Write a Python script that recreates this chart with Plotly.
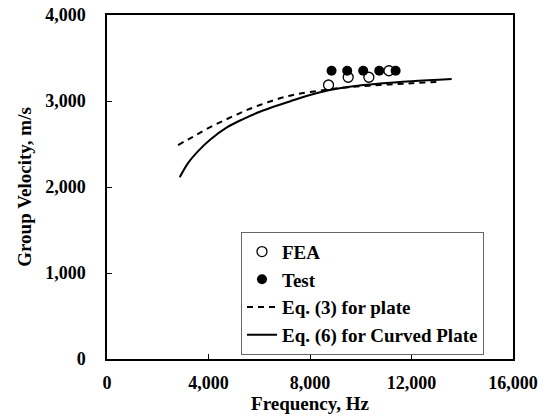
import plotly.graph_objects as go

# Data
fea_freq = [8730, 9505, 10320, 11110]
fea_vel = [3186, 3276, 3276, 3352]

test_freq = [8850, 9466, 10097, 10728, 11374]
test_vel = [3352, 3352, 3352, 3352, 3352]

eq3_freq = [2800, 3392, 4050, 4709, 5364, 6023, 6812, 7500, 8500, 9500, 10750, 12000, 13120]
eq3_vel = [2488, 2585, 2694, 2787, 2876, 2953, 3031, 3080, 3125, 3160, 3186, 3206, 3224]

eq6_freq = [2867, 3200, 3600, 4050, 4709, 5364, 6023, 6681, 7206, 8000, 8730, 9700, 10755, 12000, 13583]
eq6_vel = [2113, 2280, 2420, 2547, 2690, 2790, 2875, 2945, 2995, 3070, 3125, 3172, 3203, 3230, 3256]

x_ticks = [0, 4000, 8000, 12000, 16000]
y_ticks = [0, 1000, 2000, 3000, 4000]

FONT = "Liberation Serif, Times New Roman, serif"

fig = go.Figure()
fig.add_trace(go.Scatter(
    x=fea_freq, y=fea_vel, mode="markers", name="FEA",
    marker=dict(symbol="circle-open", size=10, color="black", line=dict(width=1.3, color="black")),
))
fig.add_trace(go.Scatter(
    x=test_freq, y=test_vel, mode="markers", name="Test",
    marker=dict(symbol="circle", size=10, color="black"),
))
fig.add_trace(go.Scatter(
    x=eq3_freq, y=eq3_vel, mode="lines", name="Eq. (3) for plate",
    line=dict(color="black", width=2, dash="6px,5px", shape="spline"),
))
fig.add_trace(go.Scatter(
    x=eq6_freq, y=eq6_vel, mode="lines", name="Eq. (6) for Curved Plate",
    line=dict(color="black", width=2, shape="spline"),
))

axis_common = dict(
    showgrid=False, zeroline=False, showline=True, linecolor="black", linewidth=1.5,
    mirror=True, ticks="inside", ticklen=5, tickcolor="black", tickwidth=1.2,
    tickformat=",d", automargin=False,
    tickfont=dict(family=FONT, size=18, color="black", weight="bold"),
)

fig.update_xaxes(
    range=[0, 16000], tickvals=x_ticks, ticklabelstandoff=7, **axis_common,
    title=dict(text="Frequency, Hz", font=dict(family=FONT, size=19, color="black", weight="bold"), standoff=4),
)
fig.update_yaxes(
    range=[0, 4000], tickvals=y_ticks, ticklabelstandoff=16, **axis_common,
    title=dict(text="Group Velocity, m/s", font=dict(family=FONT, size=19, color="black", weight="bold"), standoff=9),
)

fig.update_layout(
    width=550, height=417,
    margin=dict(l=107, r=37, t=15, b=58),
    paper_bgcolor="white", plot_bgcolor="white",
    font=dict(family=FONT, size=19, color="black", weight="bold"),
    showlegend=True,
    legend=dict(
        x=0.33, y=0.37, xanchor="left", yanchor="top",
        bordercolor="#666666", borderwidth=1, bgcolor="white",
        font=dict(family=FONT, size=19, color="black", weight="bold"),
        itemwidth=30, tracegroupgap=0,
    ),
)

fig.write_html("out.html")
